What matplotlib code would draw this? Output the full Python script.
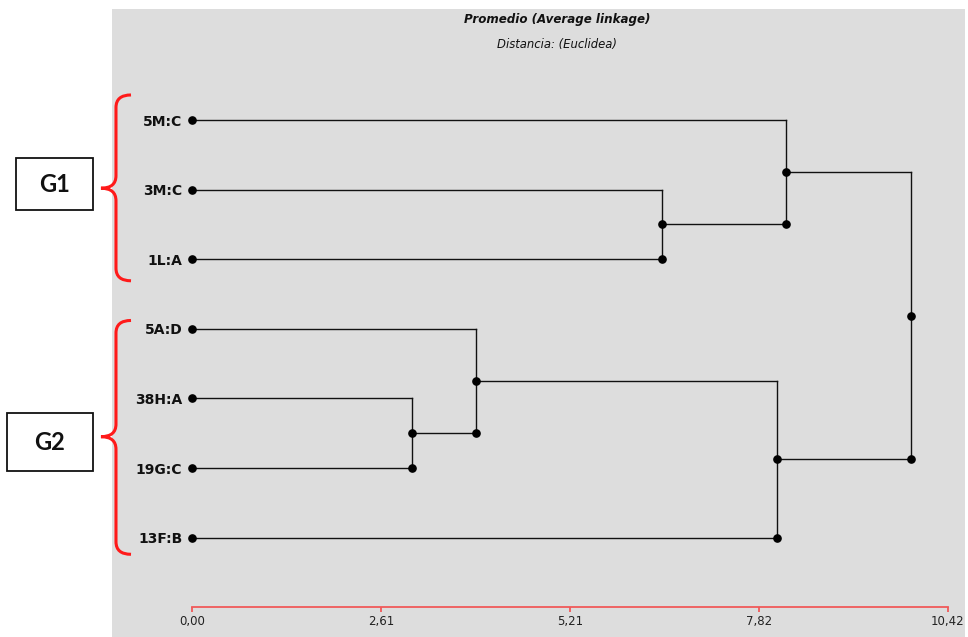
import numpy as np
import matplotlib
matplotlib.use("Agg")
import matplotlib.pyplot as plt
from matplotlib.patches import Rectangle, PathPatch
from matplotlib.path import Path

# leaves, top to bottom
leaves = ['5M:C', '3M:C', '1L:A', '5A:D', '38H:A', '19G:C', '13F:B']
# merges: node ids continue after the leaves (7, 8, ...)
merge_a = [4, 3, 8, 1, 0, 11]
merge_b = [5, 7, 6, 2, 10, 9]
merge_h = [3.03, 3.92, 8.07, 6.48, 8.19, 9.92]

ticks = [0.0, 2.61, 5.21, 7.82, 10.42]
tick_labels = ['0,00', '2,61', '5,21', '7,82', '10,42']

groups = ['G1', 'G2']
group_span = [(-0.36, 2.31), (2.88, 6.24)]
group_tip = [0.98, 4.55]

plt.rcParams['font.family'] = ['DejaVu Sans']

fig = plt.figure(figsize=(9.68, 6.37), dpi=100)
ax = fig.add_axes([112/968, 0, 853/968, 628/637])
ax.set_facecolor('#dddddd')
ax.set_xlim(-1.103, 10.658)
ax.set_ylim(7.428, -1.595)

# node positions
xs = [0.0]*len(leaves)
ys = [float(i) for i in range(len(leaves))]
for a, b, h in zip(merge_a, merge_b, merge_h):
    xs.append(h)
    ys.append((ys[a] + ys[b]) / 2)

lc = '#111111'
for k, (a, b, h) in enumerate(zip(merge_a, merge_b, merge_h)):
    top, bot = (a, b) if ys[a] < ys[b] else (b, a)
    ax.plot([xs[top], h], [ys[top], ys[top]], color=lc, lw=1.0, zorder=2)
    ax.plot([xs[bot], h], [ys[bot], ys[bot]], color=lc, lw=1.0, zorder=2)
    ax.plot([h, h], [ys[top], ys[bot]], color=lc, lw=1.0, zorder=2)
    node = len(leaves) + k
    ax.plot([h, h], [ys[node], ys[bot]], 'o', color='black', ms=5.2, zorder=3)

ax.plot(xs[:len(leaves)], ys[:len(leaves)], 'o', color='black', ms=5.2, zorder=3)

# leaf labels on y axis placed at x = 0
ax.set_yticks(range(len(leaves)), leaves)
ax.spines['left'].set_position(('data', 0))
ax.tick_params(axis='y', length=0, pad=7, labelsize=10)
for t in ax.get_yticklabels():
    t.set_fontweight('bold')
    t.set_color('#111111')

# red distance axis
ax.spines['bottom'].set_position(('data', 7.0))
ax.spines['bottom'].set_bounds(ticks[0], ticks[-1])
ax.spines['bottom'].set_color('#f05a5a')
ax.spines['bottom'].set_linewidth(1.3)
ax.set_xticks(ticks, tick_labels)
ax.tick_params(axis='x', direction='out', length=3.5, width=1.3, color='#f05a5a',
               labelsize=8.5, pad=2, labelcolor='#222222')
for s in ['left', 'top', 'right']:
    ax.spines[s].set_visible(False)

ax.text(5.03, -1.437, 'Promedio (Average linkage)', ha='center', va='center',
        fontsize=8.6, fontweight='bold', fontstyle='italic', color='#111111')
ax.text(5.03, -1.092, 'Distancia: (Euclidea)', ha='center', va='center',
        fontsize=8.4, fontstyle='italic', color='#111111')

# braces and group boxes
xo, xm, xt, r = -0.841, -1.048, -1.255, 0.18
for g, (y0, y1), ym in zip(groups, group_span, group_tip):
    verts = [(xo, y0), (xm, y0), (xm, y0 + r),
             (xm, ym - r), (xm, ym), (xt, ym),
             (xm, ym), (xm, ym + r),
             (xm, y1 - r), (xm, y1), (xo, y1)]
    codes = [Path.MOVETO, Path.CURVE3, Path.CURVE3,
             Path.LINETO, Path.CURVE3, Path.CURVE3,
             Path.CURVE3, Path.CURVE3,
             Path.LINETO, Path.CURVE3, Path.CURVE3]
    ax.add_patch(PathPatch(Path(verts, codes), fill=False, edgecolor='#ff1a1a',
                           lw=2.2, clip_on=False, zorder=4))

box_x = [(-2.426, -1.365), (-2.55, -1.365)]
box_y = [(0.54, 1.30), (4.21, 5.05)]
for g, (bx0, bx1), (by0, by1) in zip(groups, box_x, box_y):
    ax.add_patch(Rectangle((bx0, by0), bx1 - bx0, by1 - by0, facecolor='white',
                           edgecolor='#111111', lw=1.3, clip_on=False, zorder=4))
    ax.text((bx0 + bx1) / 2, (by0 + by1) / 2, g, ha='center', va='center',
            fontsize=17, fontweight='bold', family=['Lato', 'DejaVu Sans'],
            color='#111111', zorder=5, clip_on=False)

fig.savefig('out.png', dpi=100, facecolor='white')
